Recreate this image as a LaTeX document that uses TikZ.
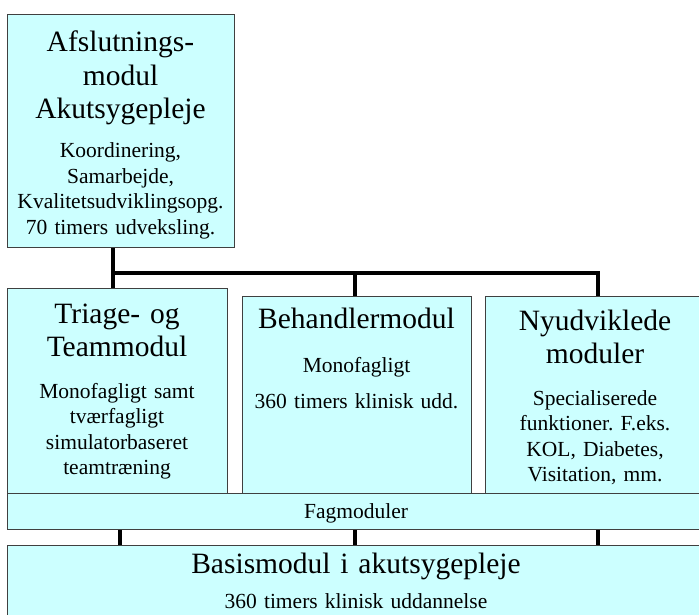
\documentclass[tikz,border=0pt]{standalone}
\usepackage{fontspec}
\setmainfont{Liberation Serif}
\usepackage{tikz}
\usepackage{xcolor}
\frenchspacing

\definecolor{boxfill}{HTML}{CCFFFF}
\definecolor{boxedge}{HTML}{404040}

\tikzset{
    modbox/.style={draw=boxedge, fill=boxfill, line width=1pt, inner sep=0pt, anchor=north west},
    modtitle/.style={font=\fontsize{29.5}{33.5}\selectfont, text width=260pt, align=center, inner sep=0pt, anchor=base},
    modtext/.style={font=\fontsize{21.5}{25.5}\selectfont, text width=260pt, align=center, inner sep=0pt, anchor=base},
    link/.style={line width=3.5pt, black}
}

\begin{document}
\begin{tikzpicture}[x=1pt, y=-1pt]

    \useasboundingbox (0,0) rectangle (699,615);
    \clip (0,0) rectangle (699,615);

    % Boxes
    \node[modbox, minimum width=227pt, minimum height=233pt] (afslut) at (7,14) {};
    \node[modbox, minimum width=220pt, minimum height=205pt] (triage) at (7,288) {};
    \node[modbox, minimum width=229pt, minimum height=197pt] (behandler) at (242,296) {};
    \node[modbox, minimum width=220pt, minimum height=197pt] (nyudv) at (485,296) {};
    \node[modbox, minimum width=698pt, minimum height=36pt] (fag) at (7,493) {};
    \node[modbox, minimum width=698pt, minimum height=100pt] (basis) at (7,545) {};

    % Texts
    \node[modtitle] (afslutT) at (120.5,52) {Afslutnings-\\modul\\Akutsygepleje};
    \node[modtext] (afslutB) at (120.5,158) {Koordinering,\\Samarbejde,\\Kvalitetsudviklingsopg.\\70 timers udveksling.};
    \node[modtitle] (triageT) at (117,323) {Triage- og\\Teammodul};
    \node[modtext] (triageB) at (117,398) {Monofagligt samt\\tværfagligt\\simulatorbaseret\\teamtræning};
    \node[modtitle] (behandlerT) at (356.5,328) {Behandlermodul};
    \node[modtext] (behandlerB) at (356.5,372) {Monofagligt\\[10.5pt]360 timers klinisk udd.};
    \node[modtitle] (nyudvT) at (595,330) {Nyudviklede\\moduler};
    \node[modtext] (nyudvB) at (595,405) {Specialiserede\\funktioner. F.eks.\\KOL, Diabetes,\\Visitation, mm.};
    \node[modtext] (fagT) at (356,518) {Fagmoduler};
    \node[modtitle, text width=400pt] (basisT) at (356,573) {Basismodul i akutsygepleje};
    \node[modtext, text width=400pt] (basisB) at (356,608) {360 timers klinisk uddannelse};

    % Connectors, top
    \coordinate (hub) at (113,273);
    \coordinate (tapB) at (355,273);
    \coordinate (tapN) at (598,273);
    \draw[link] (hub |- afslut.south) -- (hub |- triage.north);
    \draw[link] (hub) -- (tapN) -- (tapN |- nyudv.north);
    \draw[link] (tapB) -- (tapB |- behandler.north);

    % Connectors, bottom
    \foreach \d/\x in {dropA/120, dropB/355, dropC/598} {
        \coordinate (\d) at (\x,537);
        \draw[link] (\d |- fag.south) -- (\d |- basis.north);
    }

\end{tikzpicture}
\end{document}
